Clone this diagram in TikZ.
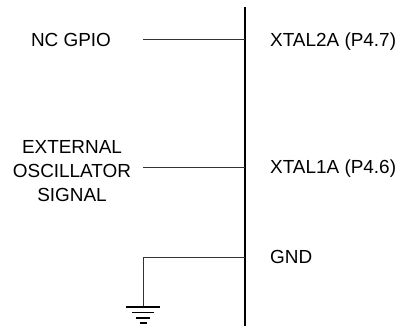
\documentclass[tikz,border=0pt]{standalone}
\usepackage{fontspec}
\setmainfont{Liberation Sans}
\begin{document}
\begin{tikzpicture}[x=1bp,y=-1bp,
    font=\fontsize{19}{23.8}\selectfont,
    wire/.style={line width=0.8bp, draw=black!80},
    pin/.style={anchor=base west, inner sep=0pt},
    sig/.style={anchor=base, inner sep=0pt, align=center},
    earthbar/.style={line width=1.6bp}]
  \useasboundingbox (0,0) rectangle (396,326);
  % pins on the bus
  \draw
    (245,39.5) coordinate (p47)
    (245,167) coordinate (p46)
    (245,257) coordinate (gnd)
    (143,39.5) coordinate (w47)
    (143,167) coordinate (w46)
    (143,257) coordinate (wgnd)
    (143,307) coordinate (earth);
  \draw[line width=2bp] (245,7) coordinate (bustop) -- (245,326) coordinate (busbot);
  % labels
  \node[pin] (xtal2a) at (270,46.3) {XTAL2A (P4.7)};
  \node[pin] (xtal1a) at (270,173.8) {XTAL1A (P4.6)};
  \node[pin] (gndlbl) at (270,263.8) {GND};
  \node[sig] (ncgpio) at (71,46.3) {NC GPIO};
  \node[sig, anchor=north] (extosc) at (72,140.5) {EXTERNAL\\OSCILLATOR\\SIGNAL};
  % wires
  \begin{scope}[wire]
    \draw (w47) -- (p47);
    \draw (w46) -- (p46);
    \draw (gnd) -- (wgnd) -- (earth);
  \end{scope}
  % ground symbol
  \draw[line width=2bp] ([shift={(-17,0)}]earth) -- ([shift={(17,0)}]earth);
  \draw[earthbar] ([shift={(-11,5.5)}]earth) -- ([shift={(11,5.5)}]earth);
  \draw[earthbar] ([shift={(-7,11)}]earth) -- ([shift={(7,11)}]earth);
  \draw[earthbar] ([shift={(-3.5,16)}]earth) -- ([shift={(3.5,16)}]earth);
\end{tikzpicture}
\end{document}
